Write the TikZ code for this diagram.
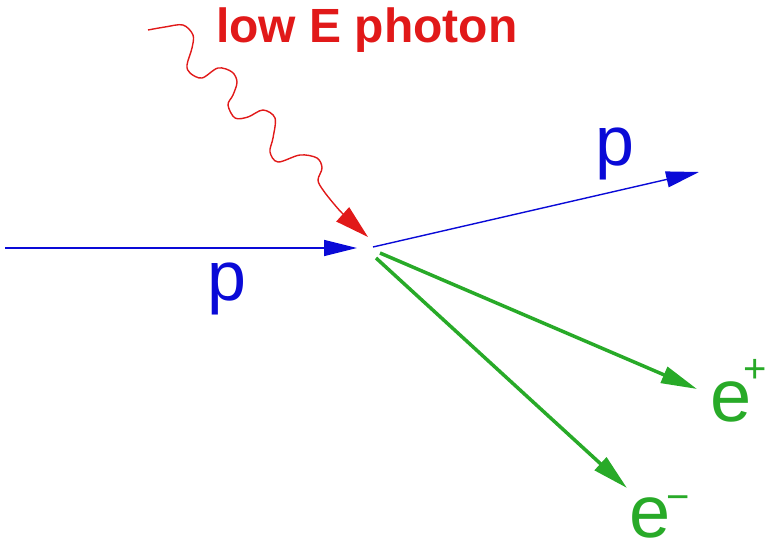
\documentclass[tikz,border=0pt]{standalone}
\usepackage{fontspec}
\setmainfont{Liberation Sans}
\usetikzlibrary{arrows.meta}
\definecolor{pblue}{RGB}{10,10,215}
\definecolor{egreen}{RGB}{40,170,40}
\definecolor{gred}{RGB}{225,25,25}
\tikzset{
  proton/.style={draw=pblue, line width=1.4pt, -{Triangle[length=33pt,width=16pt]}, color=pblue},
  lepton/.style={draw=egreen, line width=3.5pt, -{Triangle[length=36pt,width=17pt]}, color=egreen},
  photonline/.style={draw=gred, line width=1.4pt, -{Triangle[length=34pt,width=19pt]}, color=gred},
  plabel/.style={inner sep=0pt, anchor=base west, text=pblue, font=\fontsize{70pt}{70pt}\selectfont},
  elabel/.style={inner sep=0pt, anchor=base west, text=egreen, font=\fontsize{74pt}{74pt}\selectfont},
  titlelabel/.style={inner sep=0pt, anchor=base west, text=gred, font=\bfseries\fontsize{48pt}{48pt}\selectfont}
}
\begin{document}
\begin{tikzpicture}[x=1pt,y=-1pt]
\useasboundingbox (0,0) rectangle (774,540);
% coordinates
\coordinate (pin) at (5,248);
\coordinate (vin) at (357,248);
\coordinate (pout0) at (373,247);
\coordinate (pout1) at (699,172);
\coordinate (ep0) at (380,253);
\coordinate (ep1) at (697,389);
\coordinate (em0) at (376,258);
\coordinate (em1) at (627,488);
\coordinate (g0) at (148,30);
\coordinate (g1) at (368,237);
% lines
\draw[proton] (pin) -- (vin);
\draw[proton] (pout0) -- (pout1);
\draw[lepton] (ep0) -- (ep1);
\draw[lepton] (em0) -- (em1);
\draw[photonline] plot[smooth, tension=0.55] coordinates {(g0) (165,27) (183,25) (193,35) (192,48) (187,65) (190,73) (202,78) (218,68) (232,72) (237,82) (233,95) (228,105) (235,118) (248,117) (263,110) (275,118) (273,138) (270,152) (278,162) (300,155) (317,158) (322,168) (318,180) (323,190) (334,204) (345,216) (g1)};
% labels
\node[titlelabel] (title) at (216,43) {low E photon};
\node[plabel] (plow) at (207,301) {p};
\node[plabel] (phigh) at (595,166) {p};
\node[elabel] (eplus) at (710,421) {e\kern-8pt\raisebox{39pt}{\fontsize{40pt}{40pt}\selectfont +}};
\node[elabel] (eminus) at (629,537) {e\kern-4pt\raisebox{27pt}{\fontsize{40pt}{40pt}\selectfont −}};
\end{tikzpicture}
\end{document}
